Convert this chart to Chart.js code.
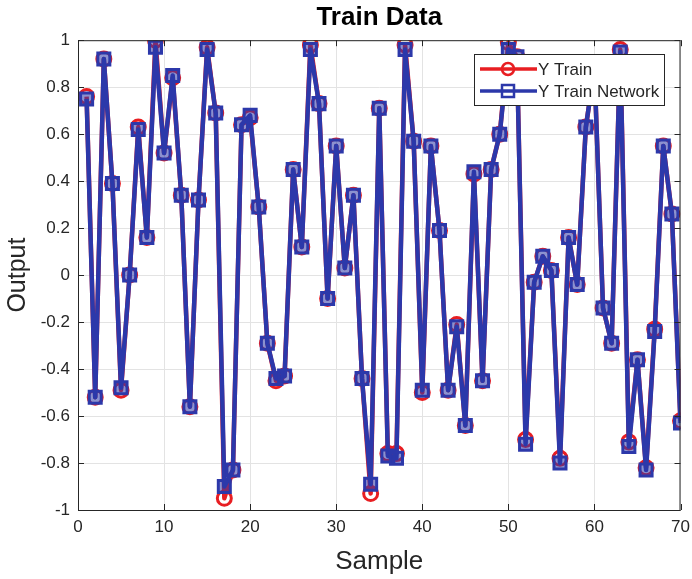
<!DOCTYPE html>
<html>
<head>
<meta charset="utf-8">
<script src="https://cdn.jsdelivr.net/npm/chart.js@4.4.1/dist/chart.umd.min.js"></script>
<style>
  html, body { margin: 0; padding: 0; background: #fff; }
  #wrap { width: 692px; height: 579px; }
</style>
</head>
<body>
<div id="wrap"><canvas id="trainChart" width="692" height="579"></canvas></div>
<script>
// Sample index (x) and the two series
const samples = [1, 2, 3, 4, 5, 6, 7, 8, 9, 10, 11, 12, 13, 14, 15, 16, 17, 18, 19, 20,
    21, 22, 23, 24, 25, 26, 27, 28, 29, 30, 31, 32, 33, 34, 35, 36, 37, 38, 39, 40,
    41, 42, 43, 44, 45, 46, 47, 48, 49, 50, 51, 52, 53, 54, 55, 56, 57, 58, 59, 60,
    61, 62, 63, 64, 65, 66, 67, 68, 69, 70];

const yTrain = [0.76, -0.52, 0.92, 0.39, -0.49, 0.00, 0.63, 0.16, 1.00, 0.52,
    0.84, 0.34, -0.56, 0.32, 0.97, 0.69, -0.95, -0.83, 0.64, 0.67,
    0.29, -0.29, -0.45, -0.43, 0.45, 0.12, 0.98, 0.73, -0.10, 0.55,
    0.03, 0.34, -0.44, -0.93, 0.71, -0.76, -0.76, 0.98, 0.57, -0.50,
    0.55, 0.19, -0.49, -0.21, -0.64, 0.43, -0.45, 0.45, 0.60, 0.99,
    0.93, -0.70, -0.03, 0.08, 0.02, -0.78, 0.16, -0.04, 0.63, 0.88,
    -0.14, -0.29, 0.96, -0.71, -0.36, -0.82, -0.23, 0.55, 0.26, -0.62];

const yTrainNetwork = [0.75, -0.52, 0.92, 0.39, -0.48, 0.00, 0.62, 0.16, 0.97, 0.52,
    0.85, 0.34, -0.56, 0.32, 0.96, 0.69, -0.90, -0.83, 0.64, 0.68,
    0.29, -0.29, -0.44, -0.43, 0.45, 0.12, 0.96, 0.73, -0.10, 0.55,
    0.03, 0.34, -0.44, -0.89, 0.71, -0.77, -0.78, 0.96, 0.57, -0.49,
    0.55, 0.19, -0.49, -0.22, -0.64, 0.44, -0.45, 0.45, 0.60, 0.96,
    0.93, -0.72, -0.03, 0.08, 0.02, -0.80, 0.16, -0.04, 0.63, 0.88,
    -0.14, -0.29, 0.95, -0.73, -0.36, -0.83, -0.24, 0.55, 0.26, -0.63];

const xTicks = [0, 10, 20, 30, 40, 50, 60, 70];
const yTicks = [-1, -0.8, -0.6, -0.4, -0.2, 0, 0.2, 0.4, 0.6, 0.8, 1];

const RED = 'rgb(232, 30, 34)';
const BLUE = 'rgb(44, 56, 170)';
const INK = '#262626';
const FONT = "'Liberation Sans', Arial, sans-serif";

// MATLAB-like box, inward tick marks and legend
const matlabBox = {
    id: 'matlabBox',
    afterDraw(chart) {
        const { ctx, chartArea: a, scales } = chart;
        ctx.save();
        ctx.strokeStyle = INK;
        ctx.lineWidth = 1;
        ctx.strokeRect(a.left + 0.5, a.top + 0.5, a.right - a.left - 1, a.bottom - a.top);
        ctx.beginPath();
        xTicks.forEach(v => {
            const px = Math.round(scales.x.getPixelForValue(v)) + 0.5;
            ctx.moveTo(px, a.bottom); ctx.lineTo(px, a.bottom - 6);
            ctx.moveTo(px, a.top); ctx.lineTo(px, a.top + 6);
        });
        yTicks.forEach(v => {
            const py = Math.round(scales.y.getPixelForValue(v)) + 0.5;
            ctx.moveTo(a.left, py); ctx.lineTo(a.left + 6, py);
            ctx.moveTo(a.right, py); ctx.lineTo(a.right - 6, py);
        });
        ctx.stroke();

        // legend box, top right inside the axes
        const lx = 474, ly = 54, lw = 190, lh = 51;
        ctx.fillStyle = '#fff';
        ctx.fillRect(lx, ly, lw, lh);
        ctx.strokeStyle = INK;
        ctx.strokeRect(lx + 0.5, ly + 0.5, lw, lh);
        const items = [chart.data.datasets[1], chart.data.datasets[0]];
        items.forEach((ds, i) => {
            const y = ly + 15 + i * 22;
            ctx.strokeStyle = ds.borderColor;
            ctx.lineWidth = 3.5;
            ctx.beginPath();
            ctx.moveTo(lx + 6, y); ctx.lineTo(lx + 63, y);
            ctx.stroke();
            ctx.lineWidth = 2.5;
            ctx.beginPath();
            if (ds.pointStyle === 'circle') {
                ctx.arc(lx + 34, y, 6, 0, Math.PI * 2);
            } else {
                ctx.rect(lx + 28, y - 6, 12, 12);
            }
            ctx.stroke();
            ctx.fillStyle = INK;
            ctx.font = '17px ' + FONT;
            ctx.textBaseline = 'middle';
            ctx.fillText(ds.label, lx + 64, y + 1);
        });
        ctx.restore();
    }
};

new Chart(document.getElementById('trainChart'), {
    type: 'line',
    data: {
        labels: samples,
        datasets: [{
            label: 'Y Train Network',
            data: yTrainNetwork,
            borderColor: BLUE,
            borderWidth: 4.5,
            borderJoinStyle: 'round',
            pointStyle: 'rect',
            pointRadius: 8.5,
            pointBorderWidth: 3,
            pointBackgroundColor: 'rgba(44, 56, 170, 0.55)',
            pointBorderColor: BLUE,
            tension: 0,
            order: 1
        }, {
            label: 'Y Train',
            data: yTrain,
            borderColor: RED,
            borderWidth: 4.5,
            borderJoinStyle: 'round',
            pointStyle: 'circle',
            pointRadius: 7,
            pointBorderWidth: 3,
            pointBackgroundColor: 'rgba(0,0,0,0)',
            pointBorderColor: RED,
            tension: 0,
            order: 2
        }]
    },
    options: {
        responsive: false,
        animation: false,
        layout: { padding: { left: 0, right: 11, top: 0, bottom: 0 } },
        plugins: {
            legend: { display: false },
            tooltip: { enabled: false },
            title: {
                display: true,
                fullSize: false,
                text: 'Train Data',
                color: '#000',
                font: { family: FONT, size: 26, weight: 'bold' },
                padding: { top: 2, bottom: 7 }
            }
        },
        scales: {
            x: {
                type: 'linear',
                min: 0, max: 70,
                afterBuildTicks: s => { s.ticks = xTicks.map(v => ({ value: v })); },
                afterFit: s => { s.height = 69; s.paddingLeft = 0; s.paddingRight = 0; },
                grid: { color: '#e3e3e3', drawTicks: false },
                border: { display: false },
                ticks: { color: INK, font: { family: FONT, size: 17 }, padding: 7, maxRotation: 0 },
                title: { display: true, text: 'Sample', color: INK, font: { family: FONT, size: 26 }, padding: 2 }
            },
            y: {
                min: -1, max: 1,
                afterBuildTicks: s => { s.ticks = yTicks.map(v => ({ value: v })); },
                afterFit: s => { s.width = 78; s.paddingTop = 0; s.paddingBottom = 0; },
                grid: { color: '#e3e3e3', drawTicks: false },
                border: { display: false },
                ticks: {
                    color: INK, font: { family: FONT, size: 17 }, padding: 8,
                    callback: v => String(Number(v.toFixed(1)))
                },
                title: { display: true, text: 'Output', color: INK, font: { family: FONT, size: 25 }, padding: 3 }
            }
        }
    },
    plugins: [matlabBox]
});
</script>
</body>
</html>
